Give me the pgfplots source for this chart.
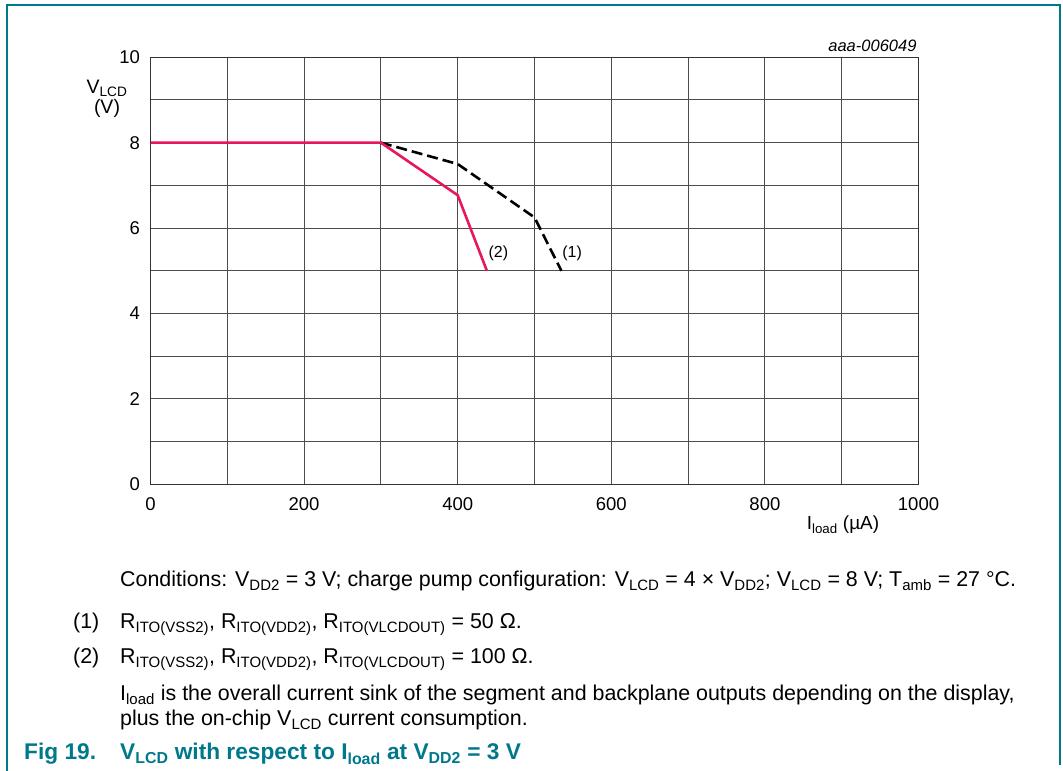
\documentclass[border=0pt]{standalone}
\usepackage{pgfplots}
\pgfplotsset{compat=1.18}
\usepackage{fontspec}
\setmainfont{Liberation Sans}
\definecolor{nxpteal}{RGB}{0,120,140}
\definecolor{nxppink}{RGB}{232,22,92}
\newcommand{\sub}[1]{\textsubscript{#1}}
\begin{document}
\begin{tikzpicture}[x=1pt,y=1pt]
\path[use as bounding box] (0,0) rectangle (1063,771);
% frame
\draw[nxpteal, line width=1.6pt] (7,0) -- (7,766) -- (1060,766) -- (1060,6);
\begin{axis}[
  at={(150.5pt,286.7pt)}, anchor=south west,
  scale only axis, width=768pt, height=427pt,
  xmin=0, xmax=1000, ymin=0, ymax=10,
  xtick={0,200,...,1000}, minor xtick={100,300,...,900},
  ytick={0,2,...,10}, minor ytick={1,3,...,9},
  grid=both,
  major grid style={black!70, line width=1pt},
  minor grid style={black!70, line width=1pt},
  axis line style={black!80, line width=1pt},
  major tick length=0pt, minor tick length=0pt,
  tick label style={font=\fontsize{18.5}{18.5}\selectfont},
  /pgf/number format/assume math mode=true,
  /pgf/number format/1000 sep={},
  xticklabel style={yshift=-10pt},
  yticklabel style={xshift=-7pt},
  clip=false,
]
\addplot[black, line width=2.6pt, dash pattern=on 11pt off 5pt] coordinates {(300,8) (400,7.5) (500,6.25) (535,5)};
\addplot[nxppink, line width=2.6pt] coordinates {(0,8) (300,8) (400,6.77) (438,5)};
\node[font=\fontsize{16}{16}\selectfont] at (axis cs:453,5.4) {(2)};
\node[font=\fontsize{16}{16}\selectfont] at (axis cs:549,5.4) {(1)};
\end{axis}
% axis labels
\node[align=center, font=\fontsize{19.5}{20}\selectfont] at (107,672) {V\sub{LCD}\\(V)};
\node[font=\fontsize{19}{19}\selectfont] at (843,246) {I\sub{load} (µA)};
\node[anchor=east, font=\itshape\fontsize{16.5}{16.5}\selectfont] at (920,725) {aaa-006049};
% notes
\begin{scope}[every node/.style={anchor=base west, inner sep=0pt, font=\fontsize{21.4}{21.4}\selectfont}]
\node at (120,184) {Conditions: V\sub{DD2} = 3 V; charge pump configuration: V\sub{LCD} = 4 × V\sub{DD2}; V\sub{LCD} = 8 V; T\sub{amb} = 27 °C.};
\node at (73,142) {(1)};
\node at (120,142) {R\sub{ITO(VSS2)}, R\sub{ITO(VDD2)}, R\sub{ITO(VLCDOUT)} = 50 Ω.};
\node at (73,107) {(2)};
\node at (120,107) {R\sub{ITO(VSS2)}, R\sub{ITO(VDD2)}, R\sub{ITO(VLCDOUT)} = 100 Ω.};
\node at (120,70) {I\sub{load} is the overall current sink of the segment and backplane outputs depending on the display,};
\node at (120,45) {plus the on-chip V\sub{LCD} current consumption.};
\end{scope}
\node[anchor=base west, inner sep=0pt, text=nxpteal, font=\bfseries\fontsize{22.7}{22.7}\selectfont] at (24,11) {Fig 19.};
\node[anchor=base west, inner sep=0pt, text=nxpteal, font=\bfseries\fontsize{22.7}{22.7}\selectfont] at (120,11) {V\sub{LCD} with respect to I\sub{load} at V\sub{DD2} = 3 V};
\end{tikzpicture}
\end{document}
